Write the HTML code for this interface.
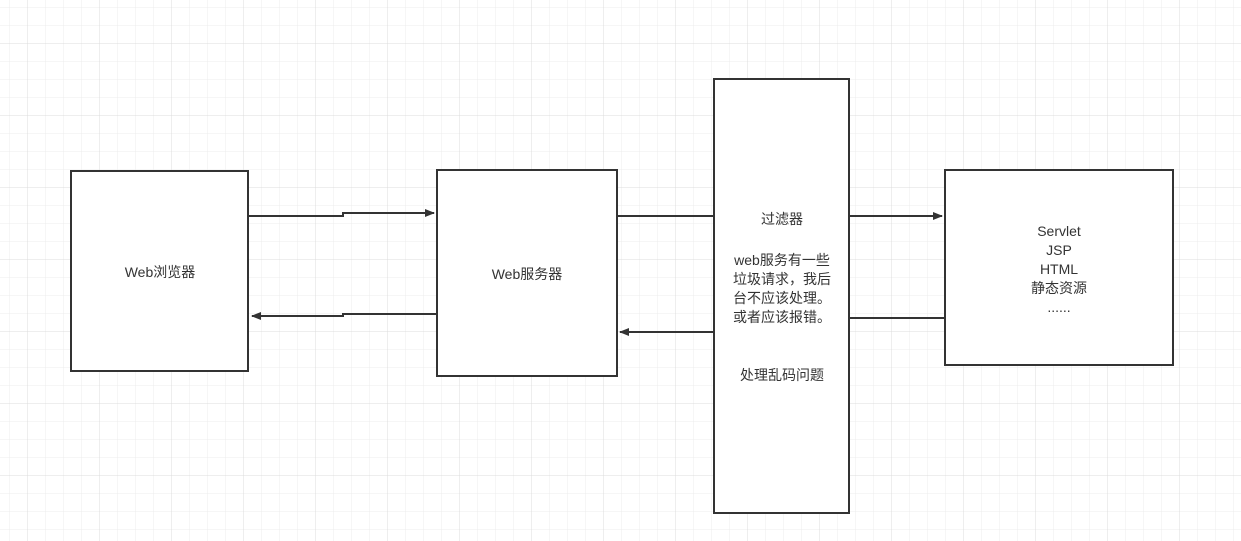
<!DOCTYPE html>
<html><head><meta charset="utf-8"><style>
html,body{margin:0;padding:0;background:#fff}
svg{display:block}
text{font-family:"Liberation Sans","Noto Sans CJK SC",sans-serif;font-size:14px;fill:#333}
</style></head><body>
<svg width="1241" height="541" viewBox="0 0 1241 541" xmlns="http://www.w3.org/2000/svg">
<defs>
<pattern id="minor" x="9" y="7" width="18" height="18" patternUnits="userSpaceOnUse">
<path d="M0 0H18M0 0V18" stroke="#ececec" stroke-width="1" fill="none"/>
</pattern>
<pattern id="major" x="27" y="43" width="72" height="72" patternUnits="userSpaceOnUse">
<path d="M0 0H72M0 0V72" stroke="#dcdcdc" stroke-width="1" fill="none"/>
</pattern>
<marker id="ar" markerWidth="10" markerHeight="8" refX="9" refY="4" orient="auto" markerUnits="userSpaceOnUse">
<path d="M0 0L10 4L0 8Z" fill="#333"/>
</marker>
</defs>
<rect width="1241" height="541" fill="url(#minor)"/>
<rect width="1241" height="541" fill="url(#major)"/>
<g stroke="#333" stroke-width="2" fill="#fff">
<rect x="71" y="171" width="177" height="200"/>
<rect x="437" y="170" width="180" height="206"/>
<rect x="714" y="79" width="135" height="434"/>
<rect x="945" y="170" width="228" height="195"/>
</g>
<g stroke="#333" stroke-width="2" fill="none">
<polyline points="249,216 343,216 343,213 434,213" marker-end="url(#ar)"/>
<polyline points="436,314 343,314 343,316 252,316" marker-end="url(#ar)"/>
<line x1="617" y1="216" x2="714" y2="216"/>
<line x1="714" y1="332" x2="620" y2="332" marker-end="url(#ar)"/>
<line x1="849" y1="216" x2="942" y2="216" marker-end="url(#ar)"/>
<line x1="945" y1="318" x2="849" y2="318"/>
</g>
<g text-anchor="middle">
<text x="160" y="277">Web浏览器</text>
<text x="527" y="279">Web服务器</text>
<text x="782" y="224">过滤器</text>
<text x="782" y="265">web服务有一些</text>
<text x="782" y="284">垃圾请求，我后</text>
<text x="782" y="303">台不应该处理。</text>
<text x="782" y="322">或者应该报错。</text>
<text x="782" y="380">处理乱码问题</text>
<text x="1059" y="236">Servlet</text>
<text x="1059" y="255">JSP</text>
<text x="1059" y="274">HTML</text>
<text x="1059" y="293">静态资源</text>
<text x="1059" y="312">......</text>
</g>
</svg>
</body></html>
